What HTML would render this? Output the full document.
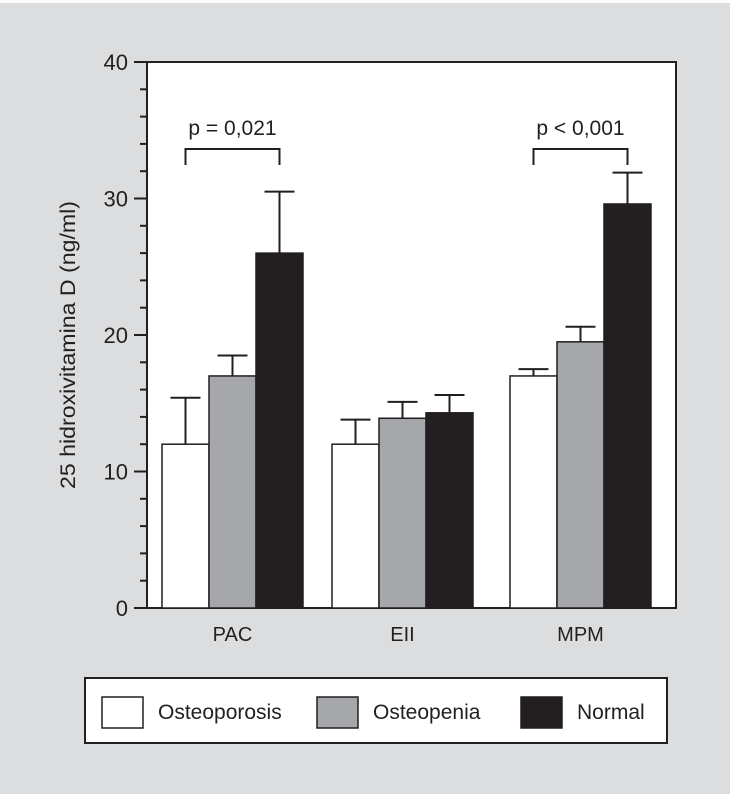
<!DOCTYPE html>
<html><head><meta charset="utf-8"><style>
html,body{margin:0;padding:0;background:#fff}
svg{display:block;font-family:"Liberation Sans",sans-serif}
</style></head><body>
<svg width="730" height="797">
<rect x="0" y="3" width="730" height="791" fill="#dcdddf"/>
<g id="plot"></g>
</svg>
<script>
const categories=["PAC","EII","MPM"];
const series=["Osteoporosis","Osteopenia","Normal"];
const osteoporosis=[12,12,17];
const osteopenia=[17,13.9,19.5];
const normal=[26,14.3,29.6];
const errOsteoporosis=[15.4,13.8,17.5];
const errOsteopenia=[18.5,15.1,20.6];
const errNormal=[30.5,15.6,31.9];
const yTicks=[0,10,20,30,40];
const pLabels=["p = 0,021","","p < 0,001"];
const NS="http://www.w3.org/2000/svg";
const g=document.getElementById('plot');
function mk(t,a,p){const e=document.createElementNS(NS,t);for(const k in a)e.setAttribute(k,a[k]);(p||g).appendChild(e);return e;}
const x0=147,x1=676,yb=608,yt=62;
function y(v){return yb-(v-0)/(40-0)*(yb-yt);}
const groupStart=[162,332,510],bw=47;
function bx(ci,si){return groupStart[ci]+si*bw;}
let r=mk('rect',{x:x0,y:yt,width:x1-x0,height:yb-yt,fill:'#fff',stroke:'#231f20','stroke-width':2});


for(let v=0;v<=40;v+=2){const major=v%10===0;
 let t=mk('line',{x1:major?134:140,x2:x0,y1:y(v),y2:y(v),stroke:'#231f20','stroke-width':2});
 
 }
yTicks.forEach(v=>{let t=mk('text',{x:128,y:y(v)+8,'text-anchor':'end','font-size':22,fill:'#231f20'});t.textContent=v;
 
 });
let yt2=mk('text',{transform:'translate(75,345) rotate(-90)','text-anchor':'middle','font-size':21,fill:'#231f20',textLength:288,lengthAdjust:'spacingAndGlyphs'});
yt2.textContent='25 hidroxivitamina D (ng/ml)';


const vals=[osteoporosis,osteopenia,normal],errs=[errOsteoporosis,errOsteopenia,errNormal],fills=['#ffffff','#a5a7aa','#231f20'];
categories.forEach((c,ci)=>{
 series.forEach((s,si)=>{
  const v=vals[si][ci],e=errs[si][ci],x=bx(ci,si),cx=x+bw/2;
  let l=mk('line',{x1:cx,x2:cx,y1:y(v),y2:y(e),stroke:'#231f20','stroke-width':2});
  
  
  let cp=mk('line',{x1:cx-15,x2:cx+15,y1:y(e),y2:y(e),stroke:'#231f20','stroke-width':2});
  
  
  let b=mk('rect',{x:x,y:y(v),width:bw,height:yb-y(v),fill:fills[si],stroke:'#231f20','stroke-width':1.5});
  
  
 });
 let t=mk('text',{x:bx(ci,1)+bw/2,y:641,'text-anchor':'middle','font-size':20,fill:'#231f20'});t.textContent=c;
 
 
 if(pLabels[ci]){
  const a=bx(ci,0)+bw/2,b2=bx(ci,2)+bw/2;
  let br=mk('path',{d:`M${a},165 V149 H${b2} V165`,fill:'none',stroke:'#231f20','stroke-width':2});
  
  
  let pt=mk('text',{x:(a+b2)/2,y:135,'text-anchor':'middle','font-size':21,fill:'#231f20'});pt.textContent=pLabels[ci];
  
  
 }
});
let lg=mk('rect',{x:85,y:678,width:582,height:65,fill:'#fff',stroke:'#231f20','stroke-width':2});


const lx=[102,317,521];
series.forEach((s,si)=>{
 let sw=mk('rect',{x:lx[si],y:697,width:41,height:31,fill:fills[si],stroke:'#231f20','stroke-width':1.5});
 
 
 let t=mk('text',{x:lx[si]+56,y:719,'font-size':21,fill:'#231f20'});t.textContent=s;
 
 
});
</script>
</body></html>
